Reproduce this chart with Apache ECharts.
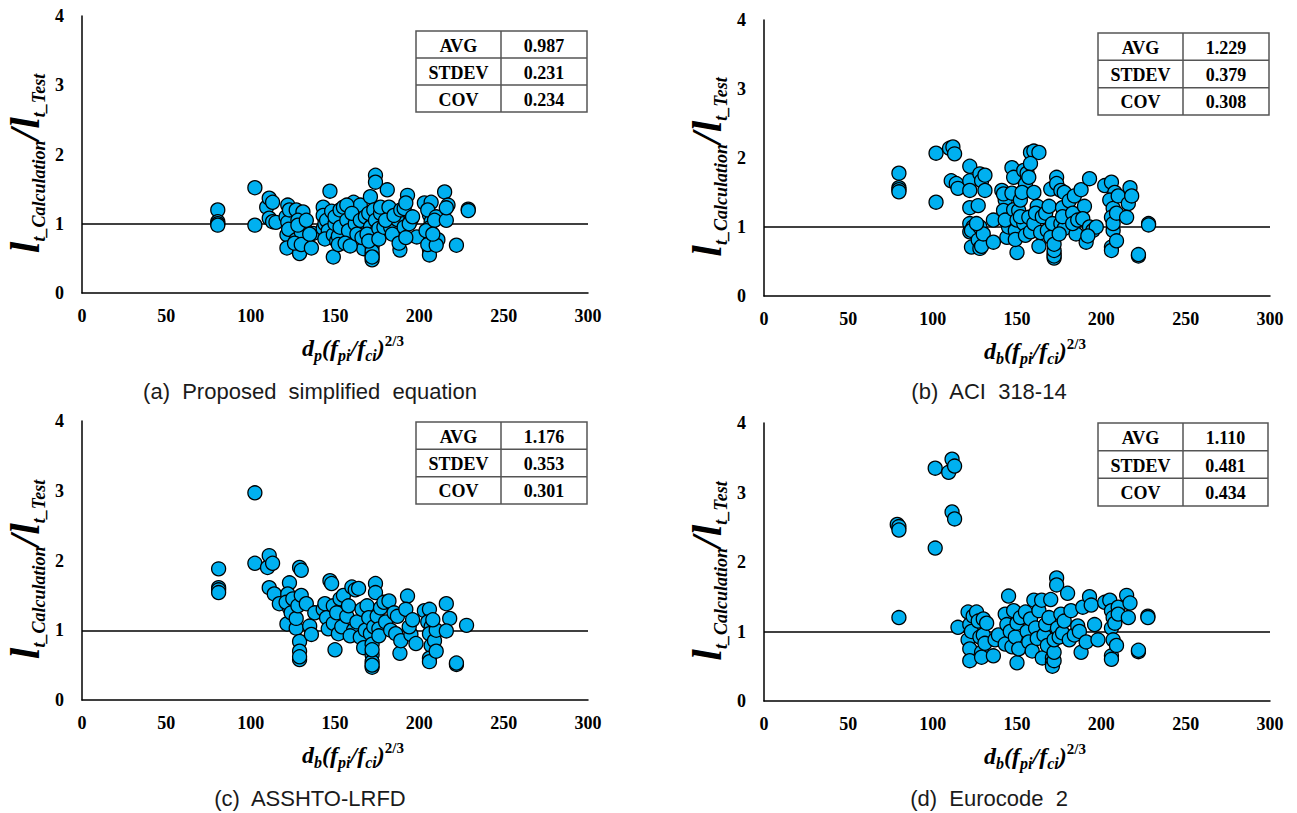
<!DOCTYPE html>
<html><head><meta charset="utf-8">
<script src="https://cdn.jsdelivr.net/npm/echarts@6/dist/echarts.min.js"></script>
<style>html,body{margin:0;padding:0;background:#fff}#c{width:1297px;height:813px}</style>
</head><body><div id="c"></div>
<script>
// ---------- DATA ----------
const panelCaptions = ['(a)  Proposed  simplified  equation', '(b)  ACI  318-14', '(c)  ASSHTO-LRFD', '(d)  Eurocode  2'];
const xAxisSubs = ['p', 'b', 'b', 'b'];
const xTickValues = [0, 50, 100, 150, 200, 250, 300];
const yTickValues = [0, 1, 2, 3, 4];
const statNames = ['AVG', 'STDEV', 'COV'];
const statsA = ['0.987', '0.231', '0.234'];
const statsB = ['1.229', '0.379', '0.308'];
const statsC = ['1.176', '0.353', '0.301'];
const statsD = ['1.110', '0.481', '0.434'];
const refRatio = 1;

const pointsA = [
[80.5,1.20],[80.5,1.03],[80.5,1.00],[80.5,0.98],[102.5,1.52],[102.5,0.98],
[109.5,1.24],[111,1.37],[113,1.31],[111,1.08],[113,1.03],[115,1.02],
[122,1.27],[121,1.10],[122,1.02],[121.5,0.84],[121.5,0.65],[123,1.20],[122.5,0.92],
[127,0.77],[129,0.60],[129,0.57],[127,1.20],[131,1.17],[128,1.05],[130,0.88],[128,0.98],[126,0.72],[130,0.70],
[133,1.05],[136,0.65],[137,0.86],[135,0.85],
[143,1.24],[143,1.12],[143,0.93],[144,1.00],[145,1.05],[146,0.90],[144,0.78],
[147,1.47],[149,0.52],[149,0.84],[151,0.75],[148,1.18],[150,1.00],[150,1.10],[152,0.82],[153,0.95],[153,1.20],[152,0.70],
[155,1.24],[161,1.31],[165,1.27],[160,1.10],[164,0.94],[167,0.64],[157,1.05],[158,0.90],[156,0.72],[159,0.68],[162,1.00],[163,0.85],[157,1.27],[160,1.15],[166,0.80],[165,1.05],[168,1.10],
[171,1.39],[174,1.70],[174,1.60],[172,0.98],[172,0.81],[172,0.67],[172,0.55],[172,0.48],[172,0.60],[172,0.52],[170,1.15],[171,0.95],[173,1.20],[174,1.05],[175,0.90],[169,0.85],[170,0.75],[176,0.93],[177,1.15],[176,0.78],
[181,1.49],[177,1.24],[182,1.24],[179,0.95],[183,0.95],[186,1.08],[187,1.06],[188.5,0.62],[180,1.05],[184,0.85],[185,1.12],[188,0.72],[189,1.20],
[191,1.22],[193,1.41],[195,1.05],[198.5,0.81],[191,0.95],[192,0.80],[194,1.00],[196,1.10],[192,1.30],
[203,1.30],[207,1.31],[206,1.13],[207,1.03],[206,0.94],[207,0.79],[206,0.62],[206,0.55],[205,0.70],[205,1.20],[204,0.90],[210,1.10],[211,0.77],[210,0.69],[209,1.05],[208,0.85],
[215,1.46],[217,1.27],[216,1.05],[216,1.23],[222,0.69],[229,1.21],[229,1.19]
];

const pointsB = [
[80,1.78],[80,1.57],[80,1.54],[80,1.51],[102,2.07],[102,1.36],
[110,2.14],[112,2.16],[113,2.06],[111,1.67],[114,1.63],[115,1.56],
[122,1.88],[122,1.67],[122,1.53],[122,1.28],[122,1.05],[122,0.93],[123,0.71],[124,1.00],[123,0.95],
[128,1.77],[129,1.67],[131,1.53],[127,1.31],[128,1.00],[127,0.81],[128,0.69],[129,0.72],[130,0.90],[126,1.05],[131,1.75],
[136,1.10],[136,0.78],
[141,1.53],[143,1.39],[142,1.24],[144,0.85],[145,1.00],[143,1.10],[142,1.48],
[147,1.86],[148,1.72],[147,1.49],[149,0.95],[150,0.63],[148,1.25],[150,1.10],[149,0.82],
[151,1.24],[152,1.39],[154,1.82],[155,1.62],[156,1.78],[153,1.50],[154,1.05],[155,0.88],[152,1.15],
[158,2.08],[160,2.10],[163,2.08],[158,1.92],[157,1.72],[157,1.14],[158,0.93],[160,1.50],[162,1.30],[160,1.05],[163,0.72],[161,1.20],[164,0.92],[165,1.15],
[167,1.20],[168,0.95],[170,0.85],[172,0.62],[172,0.55],[172,0.58],[172,0.66],[172,0.75],[171,1.05],[169,1.30],[170,1.55],
[173.5,1.72],[173.5,1.63],[176,1.53],[178,1.50],[177,1.28],[176,1.05],[178,0.98],[175,0.90],[177,1.15],
[181,1.38],[183,1.20],[185,0.90],[183,1.05],[184,1.45],[186,1.10],
[188,1.54],[193,1.70],[190,1.30],[189,1.12],[193,1.00],[191,0.78],[195,0.95],[197,1.00],[192,0.87],
[202,1.60],[206,1.65],[208,1.50],[205,1.39],[207,1.27],[206,1.14],[207,0.95],[206,0.71],[206,0.66],[209,0.80],[210,1.45],[207,1.05],[209,1.20],
[217,1.57],[216,1.34],[215,1.14],[218,1.45],
[228,1.05],[228,1.03],[222,0.58],[222,0.60]
];

const pointsC = [
[81,1.88],[81,1.61],[81,1.58],[81,1.54],[102.5,2.97],[102.5,1.96],
[110,1.90],[111,2.07],[113,1.96],[111,1.61],[114,1.52],[117,1.38],
[123,1.68],[122,1.52],[123,1.32],[121.5,1.09],[121,1.40],[124,1.25],[125,1.45],
[127,1.03],[127,1.17],[129,0.84],[129,0.70],[129,0.58],[129,0.62],[129,1.90],[130,1.86],[128,1.35],[130,1.50],
[133,1.38],[135,1.06],[136,0.94],[138,1.25],
[143,1.30],[144,1.38],[145,1.18],[146,1.02],[147,1.71],[148,1.67],[149,1.10],[150,0.72],[149,1.35],[151,1.25],[152,0.95],[153,1.45],[154,1.05],
[155,1.50],[157,1.20],[158,1.35],[160,1.62],[161,1.00],[159,0.92],[162,1.58],[163,1.12],[164,1.60],[165,0.90],[166,1.30],[167,0.75],[168,1.00],
[169,1.35],[170,1.18],[171,0.95],[172,0.80],[172,0.65],[172,0.55],[172,0.47],[172,0.50],[172,0.72],[173,1.05],[174,1.67],[174,1.54],[175,1.20],[176,1.02],[176,0.92],
[177,1.32],[179,1.40],[180,1.12],[182,1.42],[183,1.00],[185,1.25],[186,0.95],[187,1.20],[188.5,0.67],[189,0.85],
[193,1.49],[192,1.30],[195,0.94],[198,0.81],[194,1.05],[196,1.15],
[203,1.28],[206,1.30],[205,1.12],[207,1.05],[206,0.95],[207,0.78],[206,0.60],[206,0.55],[209,0.85],[210,1.00],[208,1.15],[210,0.70],
[216,1.38],[218,1.17],[216,0.99],[222,0.51],[222,0.53],[228,1.07]
];

const pointsD = [
[79,2.54],[80,2.51],[80,2.46],[80,1.20],
[101.5,3.35],[101.5,2.20],[109.5,3.29],[111.5,3.48],[113,3.38],[111.5,2.72],[113,2.62],
[115,1.06],
[121,1.28],[122,1.10],[121,0.88],[122,0.75],[122,0.58],[123,1.00],[124,1.22],
[126,1.28],[127,1.15],[128,0.92],[129,0.70],[129,0.63],[130,1.18],[130,0.95],[131,0.83],[132,1.12],
[136,0.65],[137,0.88],[139,0.95],
[143,1.25],[144,1.10],[143,0.82],[145,1.51],[146,1.00],[147,0.78],[148,1.30],[149,0.92],[150,0.55],[150,1.12],[151,0.75],[152,1.20],
[155,1.28],[156,1.00],[157,0.85],[158,1.18],[159,0.72],[160,1.45],[161,1.05],[162,0.90],[163,1.30],[164.6,1.45],[165,0.62],[166,0.95],[167,1.10],
[168,0.80],[169,1.20],[170,1.46],[171,0.62],[171,0.55],[171,0.50],[172,0.58],[172,0.70],[172,0.88],[173.5,1.77],[173.5,1.67],[174,1.05],[175,0.92],[176,1.25],
[177,0.98],[178,1.15],[180,1.55],[181,0.88],[182,1.30],[184,0.95],[186,1.08],[187,1.00],[188,0.70],[189,1.35],
[191,0.85],[193,1.50],[194,1.38],[196,1.10],[198,0.88],
[202,1.42],[205,1.45],[206,1.30],[207,1.20],[206,1.05],[207,0.88],[206,0.65],[206,0.60],[208,1.12],[209,0.80],[210,1.35],[210,1.25],
[215,1.52],[217,1.41],[216,1.20],[222,0.71],[222,0.73],[227.6,1.22],[227.6,1.20]
];

// ---------- LAYOUT / STYLE ----------
const SERIF = '"Liberation Serif","Times New Roman",serif';
const SANS = '"Liberation Sans",Arial,sans-serif';
const grids = [
  {left: 82, top: 16, width: 506, height: 277},
  {left: 764, top: 20, width: 506, height: 276},
  {left: 82, top: 421, width: 506, height: 279},
  {left: 764, top: 423, width: 506, height: 278}
];
const captionPos = [[310, 379], [989, 379], [310, 786], [989, 786]];
const tablePos = [
  {x: 416, y: 31, w: 171, h: 81, split: 85},
  {x: 1098, y: 33, w: 171, h: 82, split: 85},
  {x: 416, y: 422, w: 171, h: 82, split: 85},
  {x: 1098, y: 423, w: 170, h: 83, split: 85}
];
const allPoints = [pointsA, pointsB, pointsC, pointsD];
const allStats = [statsA, statsB, statsC, statsD];

const baseRich = {
  m: {fontFamily: SERIF, fontStyle: 'italic', fontWeight: 'bold', fontSize: 24, lineHeight: 30, color: '#000'},
  s: {fontFamily: SERIF, fontStyle: 'italic', fontWeight: 'bold', fontSize: 16, lineHeight: 16, verticalAlign: 'bottom', color: '#000'},
  u: {fontFamily: SERIF, fontWeight: 'bold', fontSize: 15, lineHeight: 15, verticalAlign: 'top', color: '#000'}
};
const yRich = {
  l: {fontFamily: SERIF, fontStyle: 'italic', fontWeight: 'bold', fontSize: 42, lineHeight: 46, color: '#000'},
  s: {fontFamily: SERIF, fontStyle: 'italic', fontWeight: 'bold', fontSize: 18, lineHeight: 18, verticalAlign: 'bottom', color: '#000'}
};

const xAxes = [], yAxes = [], series = [], titles = [], graphics = [];
for (let i = 0; i < 4; i++) {
  xAxes.push({
    gridIndex: i, type: 'value', min: xTickValues[0], max: xTickValues[xTickValues.length - 1],
    interval: xTickValues[1] - xTickValues[0],
    axisLine: {show: true, onZero: false, lineStyle: {color: '#000', width: 1.5}},
    axisTick: {show: false}, splitLine: {show: false},
    axisLabel: {color: '#000', fontFamily: SERIF, fontWeight: 'bold', fontSize: 18, margin: 14},
    name: '{m|d}{s|' + xAxisSubs[i] + '}{m|(f}{s|pi}{m|/f}{s|ci}{m|)}{u|2/3}',
    nameLocation: 'middle', nameGap: 40,
    nameTextStyle: {rich: baseRich, padding: [0, 0, 0, 36]}
  });
  yAxes.push({
    gridIndex: i, type: 'value', min: yTickValues[0], max: yTickValues[yTickValues.length - 1],
    interval: yTickValues[1] - yTickValues[0],
    axisLine: {show: true, lineStyle: {color: '#000', width: 1.5}},
    axisTick: {show: false}, splitLine: {show: false},
    axisLabel: {color: '#000', fontFamily: SERIF, fontWeight: 'bold', fontSize: 18, margin: 18},
    name: '{l|l}{s|t_Calculation}{l|/l}{s|t_Test}',
    nameLocation: 'middle', nameRotate: 90, nameGap: 34,
    nameTextStyle: {rich: yRich, padding: [0, 18, 0, 0]}
  });
  series.push({
    type: 'scatter', xAxisIndex: i, yAxisIndex: i, z: 3,
    data: allPoints[i], symbol: 'circle', symbolSize: 14,
    itemStyle: {color: '#00B0F0', borderColor: '#000', borderWidth: 1.3, opacity: 1},
    emphasis: {disabled: true},
    markLine: {
      silent: true, z: 1, symbol: ['none', 'none'], label: {show: false},
      lineStyle: {color: '#000', width: 1.5, type: 'solid'},
      data: [{yAxis: refRatio}], animation: false
    }
  });
  titles.push({
    text: panelCaptions[i], left: captionPos[i][0], top: captionPos[i][1], textAlign: 'center', padding: 0,
    textStyle: {fontFamily: SANS, fontSize: 22, lineHeight: 24, fontWeight: 'normal', color: '#1a1a1a'}
  });
  // stats table
  const t = tablePos[i];
  const rh = t.h / 3;
  const children = [];
  children.push({type: 'rect', shape: {x: 0, y: 0, width: t.w, height: t.h},
    style: {fill: '#fff', stroke: '#555', lineWidth: 1.5}});
  children.push({type: 'line', shape: {x1: t.split, y1: 0, x2: t.split, y2: t.h}, style: {stroke: '#555', lineWidth: 1.5}});
  for (let r = 1; r < 3; r++) {
    children.push({type: 'line', shape: {x1: 0, y1: rh * r, x2: t.w, y2: rh * r}, style: {stroke: '#555', lineWidth: 1.5}});
  }
  for (let r = 0; r < 3; r++) {
    children.push({type: 'text', style: {text: statNames[r], x: t.split / 2, y: rh * r + rh / 2 + 1,
      align: 'center', verticalAlign: 'middle', font: 'bold 18px ' + SERIF, fill: '#000'}});
    children.push({type: 'text', style: {text: allStats[i][r], x: t.split + (t.w - t.split) / 2, y: rh * r + rh / 2 + 1,
      align: 'center', verticalAlign: 'middle', font: 'bold 18px ' + SERIF, fill: '#000'}});
  }
  graphics.push({type: 'group', x: t.x, y: t.y, z: 10, children: children});
}

const chart = echarts.init(document.getElementById('c'), null, {renderer: 'svg'});
chart.setOption({
  animation: false,
  backgroundColor: '#fff',
  title: titles,
  grid: grids,
  xAxis: xAxes,
  yAxis: yAxes,
  series: series,
  graphic: graphics
});
</script></body></html>
